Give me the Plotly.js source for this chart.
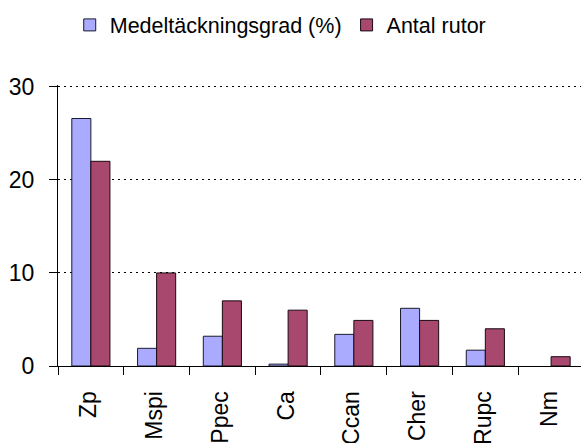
<!DOCTYPE html>
<html>
<head>
<meta charset="utf-8">
<script src="https://cdn.plot.ly/plotly-3.0.1.min.js"></script>
<style>
html,body{margin:0;padding:0;overflow:hidden;background:#fff;}
#chart{width:581px;height:443px;}
</style>
</head>
<body>
<div id="chart"></div>
<script>
const categories = ["Zp","Mspi","Ppec","Ca","Ccan","Cher","Rupc","Nm"];
const medeltackning = [26.6, 1.9, 3.2, 0.2, 3.4, 6.2, 1.7, null];
const antalRutor = [22, 10, 7, 6, 4.9, 4.9, 4, 1];
const seriesNames = ["Medeltäckningsgrad (%)", "Antal rutor"];
const yTicks = [0, 10, 20, 30];

const font = "Liberation Sans, Arial, sans-serif";
const catIndex = categories.map((c, i) => i);

const traces = [
  {
    type: "bar", name: seriesNames[0], x: categories, y: medeltackning,
    marker: {color: "#AAABFE", line: {color: "#1a1a2e", width: 1}}
  },
  {
    type: "bar", name: seriesNames[1], x: categories, y: antalRutor,
    marker: {color: "#A8486F", line: {color: "#1a0a10", width: 1}}
  },
  {
    /* carrier for the label axis only; draws nothing */
    type: "scatter", mode: "markers", x: catIndex, y: catIndex.map(() => null),
    xaxis: "x2", yaxis: "y", showlegend: false, hoverinfo: "skip",
    marker: {opacity: 0}
  }
];

const xRange = [-0.5, 7.455];

const layout = {
  width: 581, height: 443,
  margin: {l: 58, r: 0, t: 85, b: 77},
  paper_bgcolor: "#fff", plot_bgcolor: "#fff",
  barmode: "group", bargap: 0.42, bargroupgap: 0,
  showlegend: true,
  legend: {
    orientation: "h", xref: "container", yref: "container",
    x: 0.12, xanchor: "left", y: 0.99, yanchor: "top",
    font: {family: font, size: 21.5, color: "#000"},
    itemwidth: 30, tracegroupgap: 0
  },
  xaxis: {
    type: "category", range: xRange,
    showline: true, linecolor: "#000", linewidth: 1,
    ticks: "outside", tickson: "boundaries", ticklen: 8, tickcolor: "#000",
    showticklabels: false,
    showgrid: false, zeroline: false, fixedrange: true
  },
  xaxis2: {
    overlaying: "x", side: "bottom", anchor: "y",
    type: "linear", range: [xRange[0] + 0.03, xRange[1] + 0.03], autorange: false,
    tickmode: "array", tickvals: catIndex, ticktext: categories,
    ticks: "outside", ticklen: 15, tickcolor: "rgba(0,0,0,0)",
    tickangle: -90, tickfont: {family: font, size: 23, color: "#000"},
    showline: false, showgrid: false, zeroline: false, fixedrange: true
  },
  yaxis: {
    range: [0, 30.2], tickvals: yTicks, ticktext: yTicks.map(String),
    showline: true, linecolor: "#000", linewidth: 1,
    ticks: "outside", ticklen: 8, tickcolor: "#000",
    tickfont: {family: font, size: 23, color: "#000"},
    ticklabelstandoff: 10,
    showgrid: true, gridcolor: "#000", gridwidth: 1, griddash: "2px,4px",
    zeroline: false, fixedrange: true
  }
};

Plotly.newPlot("chart", traces, layout, {displayModeBar: false, staticPlot: true});
</script>
</body>
</html>
